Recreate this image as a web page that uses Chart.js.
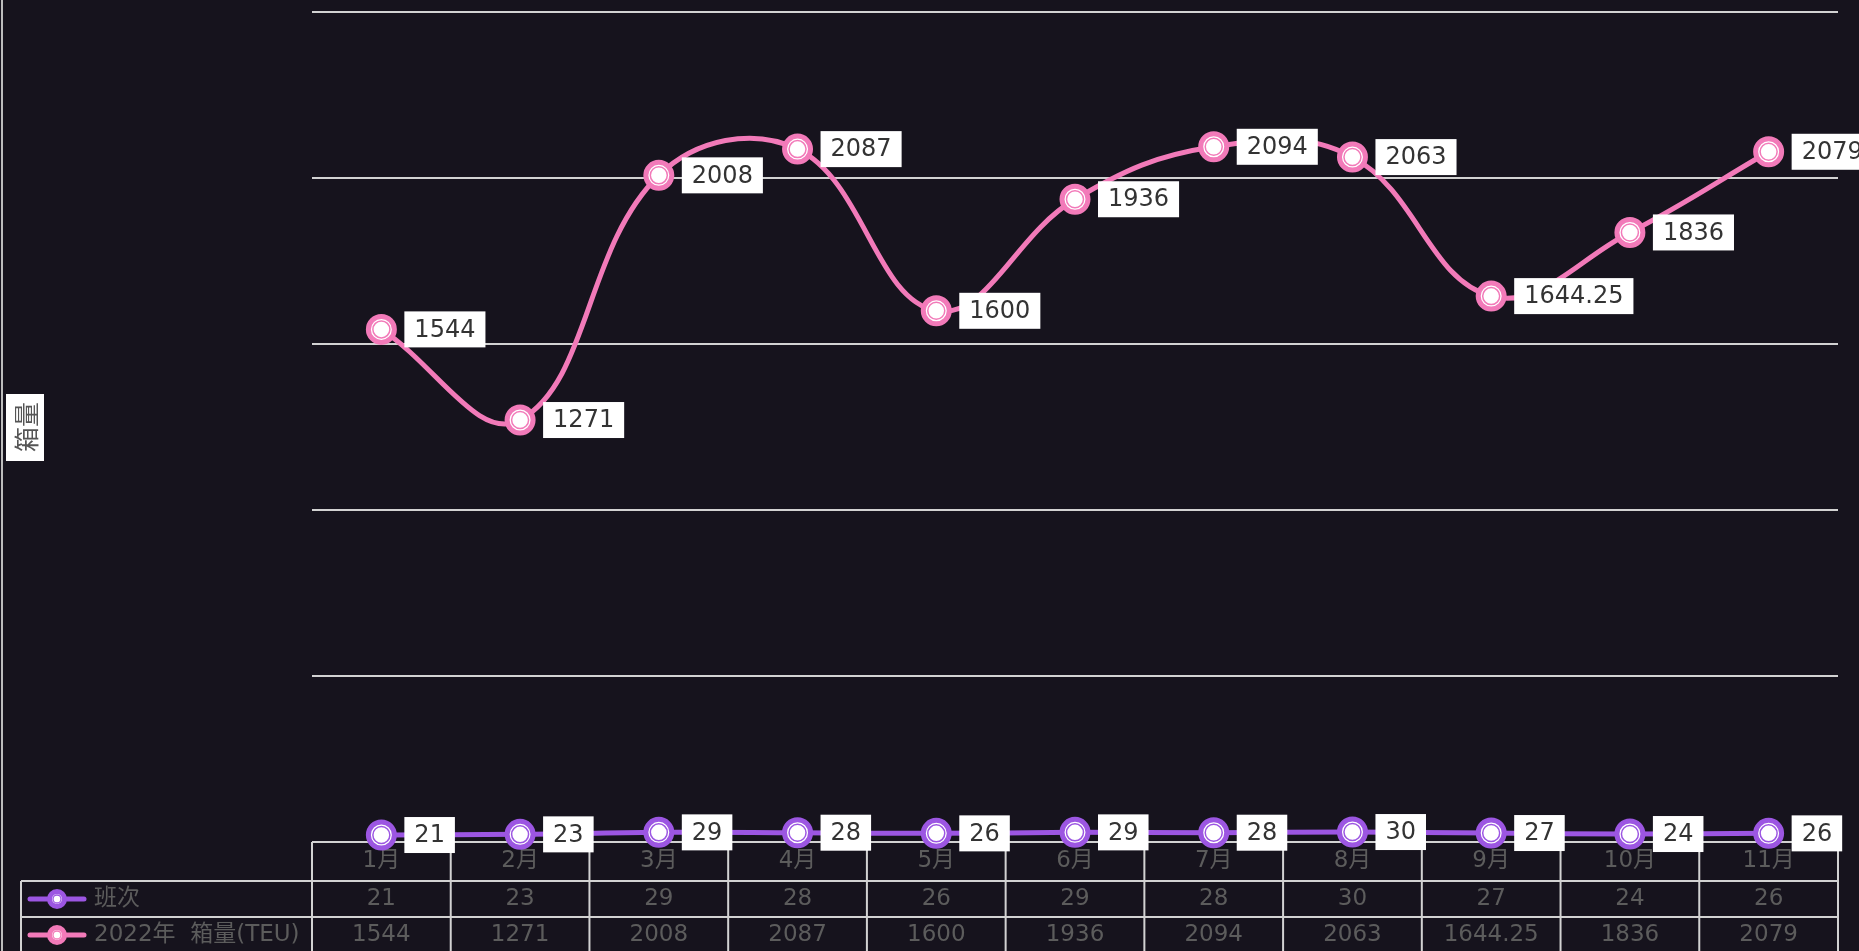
<!DOCTYPE html>
<html><head><meta charset="utf-8">
<script src="https://cdn.jsdelivr.net/npm/chart.js@4"></script>
<style>
html,body{margin:0;padding:0;background:#16131d;}
#wrap{width:1859px;height:951px;position:relative;}
</style></head>
<body><div id="wrap"><canvas id="c"></canvas></div>
<script>
const categories = ['1月','2月','3月','4月','5月','6月','7月','8月','9月','10月','11月'];
const seriesNames = ['班次','2022年  箱量(TEU)'];
const trips = [21,23,29,28,26,29,28,30,27,24,26];
const volume = [1544,1271,2008,2087,1600,1936,2094,2063,1644.25,1836,2079];
const yTitle = '箱量';
const yMin = 0, yMax = 2500, yStep = 500;

const PURPLE = '#9c56e2';
const PINK = '#f27ab9';
const BG = '#16131d';
const GRID = '#d2d2d2';
const TXT = '#5c5c5c';
const NUMFONT = '"DejaVu Sans", "Noto Sans CJK SC", sans-serif';

const decor = {
  id:'decor',
  beforeDraw(chart){
    const ctx = chart.ctx;
    ctx.save();
    ctx.fillStyle = BG;
    ctx.fillRect(0,0,chart.width,chart.height);
    ctx.restore();
  },
  beforeDatasetsDraw(chart){
    const ctx = chart.ctx, ca = chart.chartArea, xs = chart.scales.x;
    const n = categories.length;
    const colW = (ca.right-ca.left)/n;
    const r1 = ca.bottom, r2 = ca.bottom+39, r3 = ca.bottom+75, r4 = ca.bottom+111;
    const legL = 21;
    ctx.save();
    ctx.strokeStyle = '#bdbdbd'; ctx.lineWidth = 2;
    ctx.beginPath(); ctx.moveTo(2,0); ctx.lineTo(2,chart.height); ctx.stroke();
    ctx.strokeStyle = GRID; ctx.lineWidth = 2;
    ctx.beginPath();
    ctx.moveTo(ca.left, r1); ctx.lineTo(ca.right, r1);
    ctx.moveTo(legL, r2); ctx.lineTo(ca.right, r2);
    ctx.moveTo(legL, r3); ctx.lineTo(ca.right, r3);
    ctx.moveTo(legL, r4); ctx.lineTo(ca.right, r4);
    for(let i=0;i<=n;i++){
      const x = ca.left + i*colW;
      ctx.moveTo(x, r1); ctx.lineTo(x, r4);
    }
    ctx.moveTo(legL, r2); ctx.lineTo(legL, r4);
    ctx.stroke();
    ctx.fillStyle = TXT;
    ctx.font = '23px ' + NUMFONT;
    ctx.textAlign = 'center'; ctx.textBaseline = 'middle';
    categories.forEach((c,i)=>{
      const x = xs.getPixelForValue(i);
      ctx.fillText(c, x, (r1+r2)/2);
      ctx.fillText(String(trips[i]), x, (r2+r3)/2);
      ctx.fillText(String(volume[i]), x, (r3+r4)/2);
    });
    const rows = [[(r2+r3)/2, PURPLE, seriesNames[0]], [(r3+r4)/2, PINK, seriesNames[1]]];
    rows.forEach(([y,col,name])=>{
      ctx.strokeStyle = col; ctx.lineWidth = 5; ctx.lineCap='round';
      ctx.beginPath(); ctx.moveTo(30,y); ctx.lineTo(84,y); ctx.stroke();
      ctx.beginPath(); ctx.arc(57,y,7.5,0,Math.PI*2);
      ctx.fillStyle = '#fff'; ctx.fill(); ctx.lineWidth = 5; ctx.stroke();
      ctx.beginPath(); ctx.arc(57,y,4,0,Math.PI*2); ctx.lineWidth = 1.3; ctx.stroke();
      ctx.fillStyle = TXT; ctx.textAlign='left';
      ctx.font = '23px ' + NUMFONT;
      ctx.fillText(name, 94, y);
    });
    ctx.save();
    ctx.fillStyle = '#fff';
    ctx.fillRect(6, 394, 38, 67);
    ctx.translate(25, 427);
    ctx.rotate(-Math.PI/2);
    ctx.fillStyle = '#555';
    ctx.font = '25px "Noto Sans CJK SC", sans-serif';
    ctx.textAlign='center'; ctx.textBaseline='middle';
    ctx.fillText(yTitle, 0, 1);
    ctx.restore();
    ctx.restore();
  },
  afterDatasetsDraw(chart){
    const ctx = chart.ctx;
    ctx.save();
    chart.data.datasets.forEach((ds, di)=>{
      const meta = chart.getDatasetMeta(di);
      meta.data.forEach(pt=>{
        ctx.beginPath(); ctx.arc(pt.x, pt.y, 8.5, 0, Math.PI*2);
        ctx.strokeStyle = ds.borderColor; ctx.lineWidth = 1.5; ctx.stroke();
      });
    });
    ctx.font = '24px ' + NUMFONT;
    ctx.textBaseline = 'middle'; ctx.textAlign = 'left';
    chart.data.datasets.forEach((ds, di)=>{
      const meta = chart.getDatasetMeta(di);
      meta.data.forEach((pt,i)=>{
        const t = String(ds.data[i]);
        const w = ctx.measureText(t).width;
        const bx = pt.x + 23, by = pt.y - 18;
        ctx.fillStyle = '#fff';
        ctx.fillRect(bx, by, w + 20, 36);
        ctx.fillStyle = '#333';
        ctx.fillText(t, bx + 10, pt.y + 1);
      });
    });
    ctx.restore();
  }
};

new Chart(document.getElementById('c'), {
  type:'line',
  data:{
    labels: categories,
    datasets:[
      {label: seriesNames[0], data: trips, borderColor: PURPLE, backgroundColor:'#fff',
       borderWidth:5, tension:0.4, pointRadius:13, pointBorderWidth:5,
       pointBackgroundColor:'#fff', pointBorderColor: PURPLE, clip:false},
      {label: seriesNames[1], data: volume, borderColor: PINK, backgroundColor:'#fff',
       borderWidth:5, tension:0.4, pointRadius:13, pointBorderWidth:5,
       pointBackgroundColor:'#fff', pointBorderColor: PINK, clip:false}
    ]
  },
  options:{
    responsive:true, maintainAspectRatio:false, animation:false,
    layout:{autoPadding:false, padding:{left:312, right:21, top:12, bottom:109}},
    plugins:{legend:{display:false}, tooltip:{enabled:false}},
    scales:{
      x:{display:false, offset:true},
      y:{min:yMin, max:yMax, ticks:{display:false, stepSize:yStep},
         grid:{color:GRID, lineWidth:2, drawTicks:false},
         border:{display:false},
         afterFit(s){ s.width = 0; }}
    }
  },
  plugins:[decor]
});
</script></body></html>
